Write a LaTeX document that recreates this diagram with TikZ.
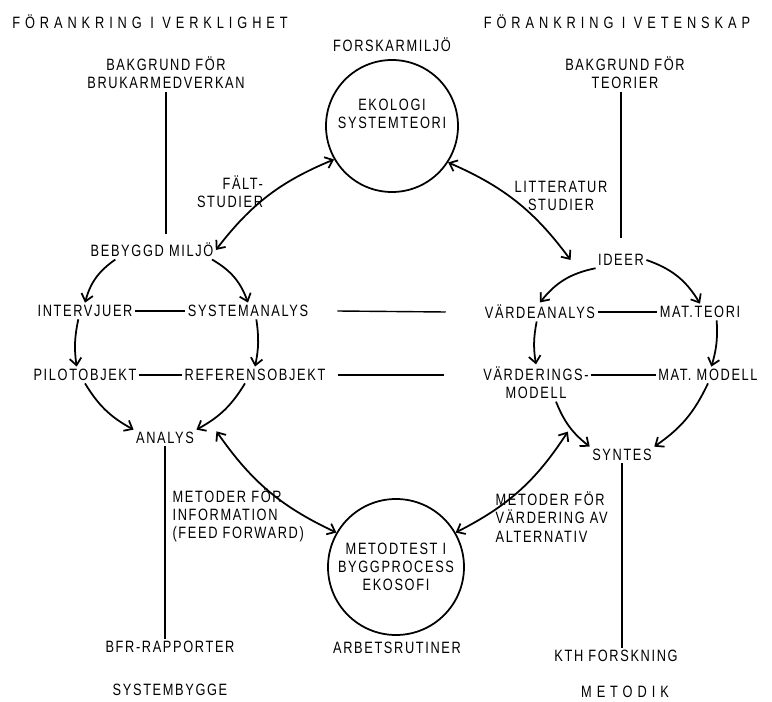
\documentclass[tikz,border=0pt]{standalone}
\usepackage{fontspec}
\setmainfont{Liberation Sans}[FakeStretch=0.78,LetterSpace=10]
\newfontfamily\headfont{Liberation Sans}[FakeStretch=0.78,LetterSpace=30]
\usetikzlibrary{arrows.meta}

\begin{document}
\begin{tikzpicture}[x=0.03cm,y=-0.03cm,
    >={Straight Barb[length=6pt,width=10pt]},
    every node/.style={font=\fontsize{14}{15.5}\selectfont,inner sep=2pt,align=center},
    head/.style={font=\headfont\fontsize{14}{15.5}\selectfont},
    flow/.style={->,line width=1.5pt},
    both/.style={<->,line width=1.5pt},
    stem/.style={line width=1.6pt},
    link/.style={line width=1.2pt},
    ring/.style={circle,draw,line width=1.5pt}]
  \useasboundingbox (0,0) rectangle (772,702);

  % headings
  \node [head] (verk) at (150,22) {FÖRANKRING I VERKLIGHET};
  \node [head] (vet) at (617,22) {FÖRANKRING I VETENSKAP};
  \node (sysb) at (170,690) {SYSTEMBYGGE};
  \node [head] (metk) at (625,692) {METODIK};

  % circles
  \node (fm) at (392,45) {FORSKARMILJÖ};
  \node [ring,minimum size=3.96cm] (eko) at (392,126) {};
  \node (ekotxt) at (392,114) {EKOLOGI\\SYSTEMTEORI};
  \node [ring,minimum size=4.08cm] (met) at (396,567) {METODTEST I\\BYGGPROCESS\\EKOSOFI};
  \node (arb) at (397,648) {ARBETSRUTINER};

  % left side
  \node (bb) at (166,73) {BAKGRUND FÖR\\BRUKARMEDVERKAN};
  \node (bm) at (152,250) {BEBYGGD MILJÖ};
  \node (iv) at (85,311) {INTERVJUER};
  \node (sa) at (248,311) {SYSTEMANALYS};
  \node (po) at (85,375) {PILOTOBJEKT};
  \node (ro) at (255,375) {REFERENSOBJEKT};
  \node (an) at (165,438) {ANALYS};
  \node (bfr) at (170,647) {BFR-RAPPORTER};
  \node (falt) at (230,192) [align=right] {FÄLT-\\STUDIER};
  \node (minf) at (170,515) [anchor=west,align=left] {METODER FÖR\\INFORMATION\\(FEED FORWARD)};

  % right side
  \node (bt) at (625,73) {BAKGRUND FÖR\\TEORIER};
  \node (id) at (621,260) {IDEER};
  \node (va) at (540,312) {VÄRDEANALYS};
  \node (mt) at (700,312) {MAT.TEORI};
  \node (vm) at (536,383) {VÄRDERINGS-\\MODELL};
  \node (mm) at (708,375) {MAT. MODELL};
  \node (sy) at (622,455) {SYNTES};
  \node (kth) at (616,656) {KTH FORSKNING};
  \node (litt) at (561,196) {LITTERATUR\\STUDIER};
  \node (mvar) at (493,517) [anchor=west,align=left] {METODER FÖR\\VÄRDERING AV\\ALTERNATIV};

  % stems
  \draw [stem,shorten >=0.2cm] (bb.south) -- (bb.south |- bm.north);
  \draw [stem] (an.south) -- (an.south |- bfr.north);
  \draw [stem,shorten >=0.4cm] (id.north |- bt.south) -- (id.north);
  \draw [stem] (sy.south) -- (sy.south |- kth.north);

  % cross links
  \draw [link] (iv) -- (sa);
  \draw [link] (po) -- (ro);
  \draw [link] (va) -- (mt);
  \draw [link] (vm.east |- mm) -- (mm);
  \draw [link] ([xshift=0.8cm]sa.east) -- ([xshift=-1.1cm]va.west);
  \draw [link] ([xshift=0.3cm]ro.east) -- ([xshift=-1.1cm]vm.west |- ro);

  % left loop
  \draw [flow] ([xshift=-1.1cm]bm.south) to[bend right=20] (iv.north);
  \draw [flow] ([xshift=1.8cm]bm.south) to[bend left=20] (sa.north);
  \draw [flow] ([xshift=-0.2cm]iv.south) to[bend right=10] ([xshift=-0.25cm]po.north);
  \draw [flow] ([xshift=0.25cm]sa.south) to[bend left=10] (ro.north);
  \draw [flow] (po.south) to[bend right=15] (an.north west);
  \draw [flow] ([xshift=-0.3cm]ro.south) to[bend left=15] (an.north east);

  % right loop
  \draw [flow] (id.south west) to[bend right=20] (va.north);
  \draw [flow] (id.east) to[bend left=20] (mt.north);
  \draw [flow] ([xshift=-0.1cm]va.south) to[bend right=10] (vm.north);
  \draw [flow] ([xshift=0.5cm]mt.south) to[bend left=10] ([xshift=0.1cm]mm.north);
  \draw [flow] ([xshift=0.6cm]vm.south) to[bend right=15] (sy.north west);
  \draw [flow] (mm.south) to[bend left=15] (sy.north east);

  % studies and methods
  \draw [both] (bm.east) to[bend left=15] (eko.210);
  \draw [both] (eko.-33) to[bend left=15] ([xshift=-0.75cm]id.west);
  \draw [both] ([xshift=0.6cm,yshift=0.2cm]an.east) to[bend right=15] (met.150);
  \draw [both] ([xshift=-0.7cm,yshift=-0.9cm]vm.south east) to[bend left=15] (met.30);
\end{tikzpicture}
\end{document}
